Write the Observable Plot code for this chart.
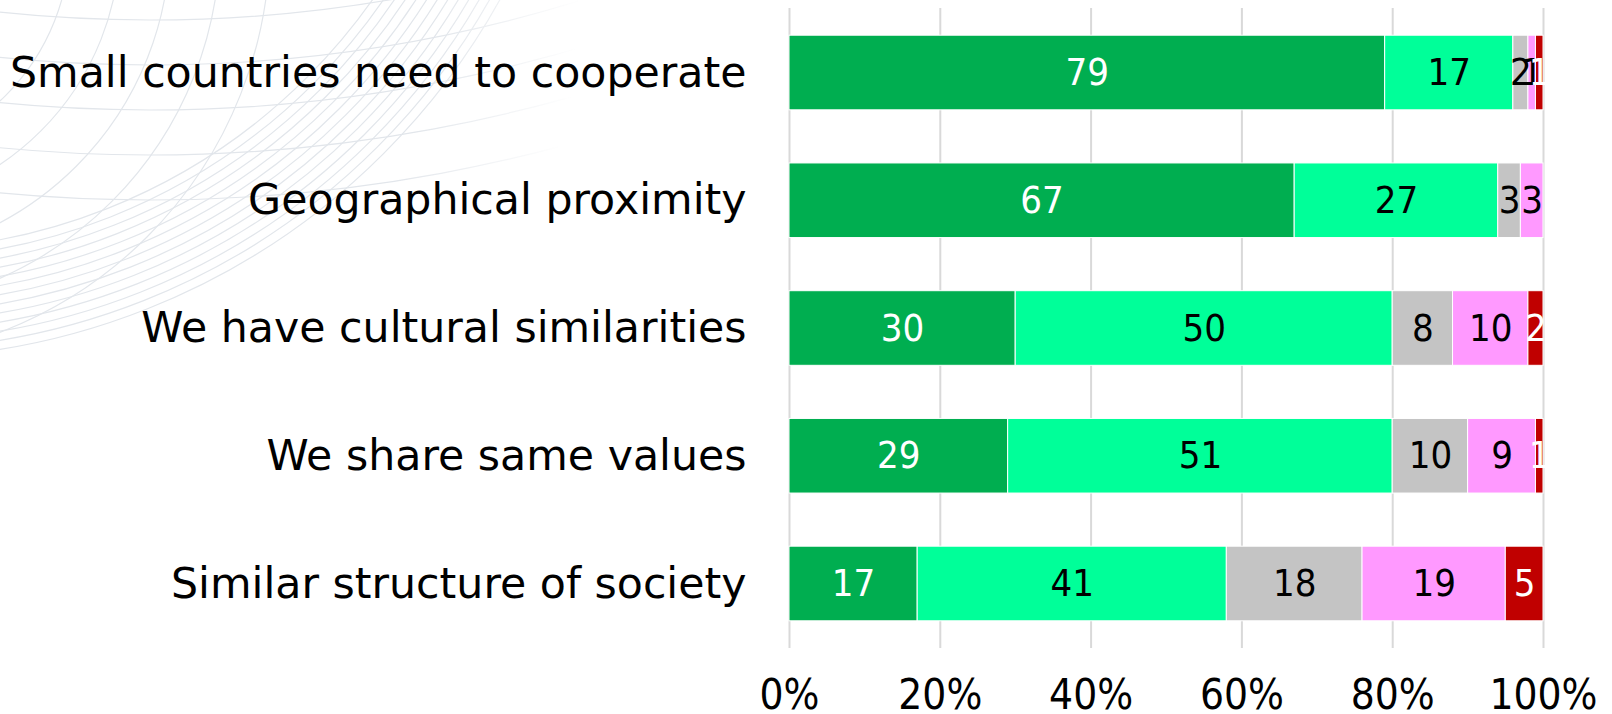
<!DOCTYPE html>
<html>
<head>
<meta charset="utf-8">
<script src="https://cdn.jsdelivr.net/npm/d3@7"></script>
<script src="https://cdn.jsdelivr.net/npm/@observablehq/plot@0.6"></script>
<style>
  html, body { margin: 0; padding: 0; background: #fff; }
  #chart svg { display: block; }
</style>
</head>
<body>
<div id="chart"></div>
<script>
// ---- data ----
const categories = [
  "Small countries need to cooperate",
  "Geographical proximity",
  "We have cultural similarities",
  "We share same values",
  "Similar structure of society"
];
const seriesNames = ["Series 1", "Series 2", "Series 3", "Series 4", "Series 5"];
const series1 = [79, 67, 30, 29, 17];
const series2 = [17, 27, 50, 51, 41];
const series3 = [2, 3, 8, 10, 18];
const series4 = [1, 3, 10, 9, 19];
const series5 = [1, 0, 2, 1, 5];
const xTicks = [0, 20, 40, 60, 80, 100];

// ---- styles ----
const fillColors = ["#00AE50", "#00FF99", "#C4C4C4", "#FF99FF", "#C00000"];
const labelColors = ["#ffffff", "#000000", "#000000", "#000000", "#ffffff"];

const allSeries = [series1, series2, series3, series4, series5];
const data = [];
allSeries.forEach((vals, si) => {
  vals.forEach((v, ci) => {
    data.push({category: categories[ci], series: seriesNames[si], si, value: v});
  });
});

const W = 1612, H = 714;
const chart = Plot.plot({
  width: W,
  height: H,
  marginLeft: 789,
  marginRight: 69,
  marginTop: 8,
  marginBottom: 66,
  style: {background: "transparent"},
  x: {domain: [0, 100], axis: null},
  y: {domain: categories, paddingInner: 0.416, paddingOuter: 0.213, round: false, axis: null},
  color: {type: "identity"},
  marks: [
    Plot.ruleX(xTicks, {stroke: "#D9D9D9", strokeWidth: 2}),
    Plot.barX(data, Plot.stackX({
      x: "value", y: "category",
      fill: d => fillColors[d.si],
      stroke: "#ffffff", strokeWidth: 1
    })),
    Plot.text(data, Plot.stackX({
      x: "value", y: "category",
      text: d => d.value > 0 ? String(d.value) : "",
      fill: d => labelColors[d.si],
      fontSize: 38,
      fontFamily: "'DejaVu Sans Condensed', 'DejaVu Sans', sans-serif"
    })),
    Plot.axisX({
      ticks: xTicks, tickFormat: d => d + "%",
      tickSize: 0, tickPadding: 31, label: null,
      fontSize: 42, fill: "#000",
      fontFamily: "'DejaVu Sans Condensed', 'DejaVu Sans', sans-serif"
    }),
    Plot.axisY({
      tickSize: 0, tickPadding: 43, label: null,
      fontSize: 42.7, fill: "#000",
      fontFamily: "'DejaVu Sans', sans-serif"
    })
  ]
});

// decorative faint arcs in the upper-left background
const svg = d3.select(chart);
const defs = svg.insert("defs", ":first-child");
const grad = defs.append("radialGradient").attr("id", "decoFade")
  .attr("gradientUnits", "userSpaceOnUse").attr("cx", 0).attr("cy", 0).attr("r", 580);
grad.append("stop").attr("offset", "0%").attr("stop-color", "#fff");
grad.append("stop").attr("offset", "75%").attr("stop-color", "#fff");
grad.append("stop").attr("offset", "100%").attr("stop-color", "#000");
defs.append("mask").attr("id", "decoMask")
  .append("rect").attr("x", 0).attr("y", 0).attr("width", 760).attr("height", 420)
  .attr("fill", "url(#decoFade)");

const deco = svg.insert("g", "defs + *")
  .attr("mask", "url(#decoMask)")
  .attr("fill", "none").attr("stroke", "#E2E6EB").attr("stroke-width", 1.2);
// dense sweeping family
d3.range(590, 705, 9).forEach(r => {
  deco.append("circle").attr("cx", -110).attr("cy", -340).attr("r", r);
});
// meridian-like family near the top-left
d3.range(220, 440, 50).forEach(r => {
  deco.append("circle").attr("cx", -150).attr("cy", -60).attr("r", r);
});
// flat parallels
d3.range(1420, 1640, 45).forEach(r => {
  deco.append("circle").attr("cx", 150).attr("cy", -1400).attr("r", r);
});

document.getElementById("chart").appendChild(chart);
</script>
</body>
</html>
